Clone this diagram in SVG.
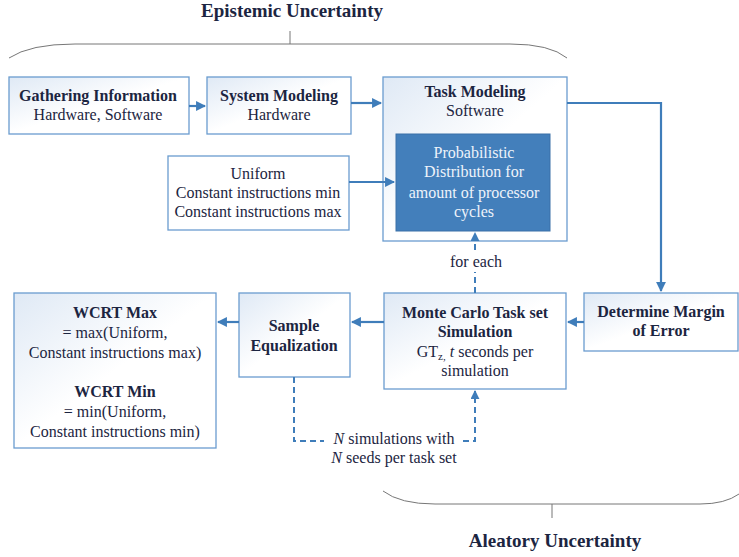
<svg xmlns="http://www.w3.org/2000/svg" width="739" height="557" viewBox="0 0 739 557" font-family="Liberation Serif, serif">
<defs>
<linearGradient id="g" x1="0" y1="0" x2="1" y2="1">
<stop offset="0" stop-color="#dfe9f5"/>
<stop offset="0.5" stop-color="#ffffff"/>
<stop offset="1" stop-color="#ffffff"/>
</linearGradient>
<marker id="ah" viewBox="0 0 10 10" refX="9" refY="5" markerWidth="4.5" markerHeight="4.5" orient="auto" markerUnits="strokeWidth">
<path d="M0,0 L10,5 L0,10 z" fill="#3f7dba"/>
</marker>
</defs>
<style>
text{font-family:'Liberation Serif',serif;fill:#1c2541;text-anchor:middle;font-size:16px}
.b{font-weight:bold;font-size:16px}
.t{font-weight:bold;font-size:19px}
.box{fill:url(#g);stroke:#6a9ccf;stroke-width:1.3}
.pl{fill:#fff;stroke:#6a9ccf;stroke-width:1.3}
.c{fill:none;stroke:#3f7dba;stroke-width:2.2}
.d{fill:none;stroke:#3f7dba;stroke-width:2;stroke-dasharray:6,4}
.br{fill:none;stroke:#777;stroke-width:1}
.w{fill:#eef3fa}
</style>
<rect width="739" height="557" fill="#fff"/>
<g id="epistemic">
<text class="t" x="292" y="17">Epistemic Uncertainty</text>
<path class="br" d="M9,58 Q30,44 75,44 L510,44 Q550,44 567,58 M290,31 L290,44"/>
</g>
<g id="aleatory">
<path class="br" d="M383,491 Q400,504 435,504 L700,504 Q725,504 739,494 M552,504 L552,518"/>
<text class="t" x="555" y="547">Aleatory Uncertainty</text>
</g>
<g id="gathering">
<rect class="box" x="9" y="77" width="180" height="57"/>
<text class="b" x="98" y="101">Gathering Information</text>
<text x="98" y="120">Hardware, Software</text>
</g>
<g id="system">
<rect class="box" x="207" y="77" width="144" height="57"/>
<text class="b" x="279" y="101">System Modeling</text>
<text x="279" y="120">Hardware</text>
</g>
<g id="task">
<rect class="box" x="383" y="77" width="184" height="164"/>
<text class="b" x="475" y="97">Task Modeling</text>
<text x="475" y="116">Software</text>
</g>
<g id="prob">
<rect x="396" y="134" width="154" height="97" fill="#437fbb" stroke="#3a70a8" stroke-width="1"/>
<text class="w" x="474" y="158">Probabilistic</text>
<text class="w" x="474" y="177">Distribution for</text>
<text class="w" x="474" y="198">amount of processor</text>
<text class="w" x="474" y="217">cycles</text>
</g>
<g id="uniform">
<rect class="pl" x="168" y="156" width="181" height="74"/>
<text x="258" y="179">Uniform</text>
<text x="258" y="198">Constant instructions min</text>
<text x="258" y="217">Constant instructions max</text>
</g>
<g id="margin">
<rect class="box" x="584" y="293" width="154" height="58"/>
<text class="b" x="661" y="317">Determine Margin</text>
<text class="b" x="661" y="336">of Error</text>
</g>
<g id="montecarlo">
<rect class="box" x="384" y="293" width="182" height="96"/>
<text class="b" x="475" y="318">Monte Carlo Task set</text>
<text class="b" x="475" y="337">Simulation</text>
<text x="475" y="357">GT<tspan font-size="11" dy="3">z,</tspan><tspan dy="-3"> </tspan><tspan font-style="italic">t</tspan> seconds per</text>
<text x="475" y="376">simulation</text>
</g>
<g id="sample">
<rect class="box" x="239" y="293" width="111" height="84"/>
<text class="b" x="294" y="331">Sample</text>
<text class="b" x="294" y="351">Equalization</text>
</g>
<g id="wcrt">
<rect class="box" x="14" y="293" width="202" height="155"/>
<text class="b" x="115" y="318">WCRT Max</text>
<text x="115" y="338">= max(Uniform,</text>
<text x="115" y="358">Constant instructions max)</text>
<text class="b" x="115" y="397">WCRT Min</text>
<text x="115" y="417">= min(Uniform,</text>
<text x="115" y="437">Constant instructions min)</text>
</g>
<g id="connectors">
<path class="c" d="M189,106 L205,106" marker-end="url(#ah)"/>
<path class="c" d="M351,103 L381,103" marker-end="url(#ah)"/>
<path class="c" d="M349,182 L394,182" marker-end="url(#ah)"/>
<path class="c" d="M567,103 L661,103 L661,291" marker-end="url(#ah)"/>
<path class="c" d="M584,322 L568,322" marker-end="url(#ah)"/>
<path class="c" d="M384,322 L352,322" marker-end="url(#ah)"/>
<path class="c" d="M239,322 L218,322" marker-end="url(#ah)"/>
<path class="d" d="M475,293 L475,272"/>
<path class="d" d="M475,250 L475,233" marker-end="url(#ah)"/>
<path class="d" d="M294,377 L294,441 L324,441"/>
<path class="d" d="M463,441 L475,441 L475,391" marker-end="url(#ah)"/>
<text x="476" y="267">for each</text>
<text x="394" y="444"><tspan font-style="italic">N</tspan> simulations with</text>
<text x="394" y="463"><tspan font-style="italic">N</tspan> seeds per task set</text>
</g>
</svg>
